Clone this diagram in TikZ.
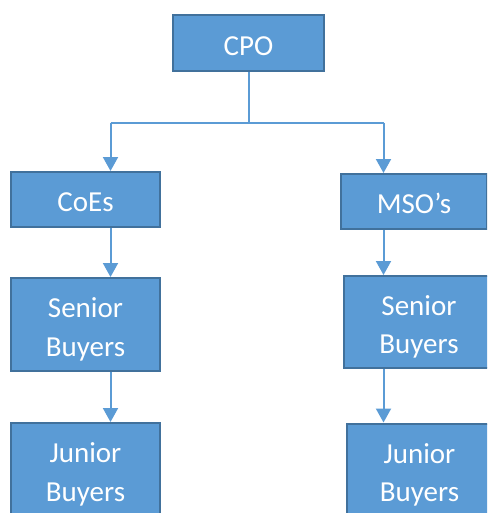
\documentclass[tikz,border=0pt]{standalone}
\usepackage{fontspec}
\setmainfont{Carlito}
\usetikzlibrary{arrows.meta}
\definecolor{boxfill}{RGB}{91,155,213}
\definecolor{boxline}{RGB}{65,113,156}
\definecolor{wire}{RGB}{91,155,213}

\begin{document}
\begin{tikzpicture}[
  x=1pt, y=-1pt,
  font=\fontsize{29}{38.5}\selectfont,
  >={Triangle[length=14pt,width=15pt]},
  role/.style={draw=boxline, fill=boxfill, line width=2pt, text=white, align=center, inner sep=0pt,
    execute at begin node={\rule{0pt}{25pt}}},
  tall/.style={role, minimum height=93pt, text height=63pt, text depth=0pt},
  link/.style={draw=wire, line width=2pt},
  arr/.style={->, draw=wire, fill=wire, line width=2pt},
]
\clip (0,0) rectangle (487,513);
% ------------------------------------------------------------------ boxes
\node[role, minimum width=151pt, minimum height=56pt] (cpo) at (248.5,43) {CPO};

\node[role, minimum width=149pt, minimum height=55pt] (coes) at (85.5,199.5) {CoEs};
\node[tall, minimum width=149pt] (sen1) at (85.5,324.5) {Senior\\Buyers};
\node[tall, minimum width=149pt] (jun1) at (85.5,469.5) {Junior\\Buyers};

\node[role, minimum width=146pt, minimum height=55pt] (mso) at (414,201.5) {MSO’s};
\node[tall, minimum width=150pt, minimum height=92pt] (sen2) at (419,322) {Senior\\Buyers};
\node[tall, minimum width=145pt] (jun2) at (419.5,470) {Junior\\Buyers};

% ------------------------------------------------------------------ connectors
\coordinate (jl) at (110.5,123);
\coordinate (jr) at (383.5,123);
\draw[link] (cpo.south) -- (cpo.south |- jl);
\draw[link] (jl) -- (jr);
\draw[arr] (jl) -- (jl |- coes.north);
\draw[arr] (jr) -- (jr |- mso.north);

\draw[arr] (coes.south -| jl) -- (sen1.north -| jl);
\draw[arr] (sen1.south -| jl) -- (jun1.north -| jl);
\draw[arr] (mso.south -| jr) -- (sen2.north -| jr);
\draw[arr] (sen2.south -| jr) -- (jun2.north -| jr);
\end{tikzpicture}
\end{document}
